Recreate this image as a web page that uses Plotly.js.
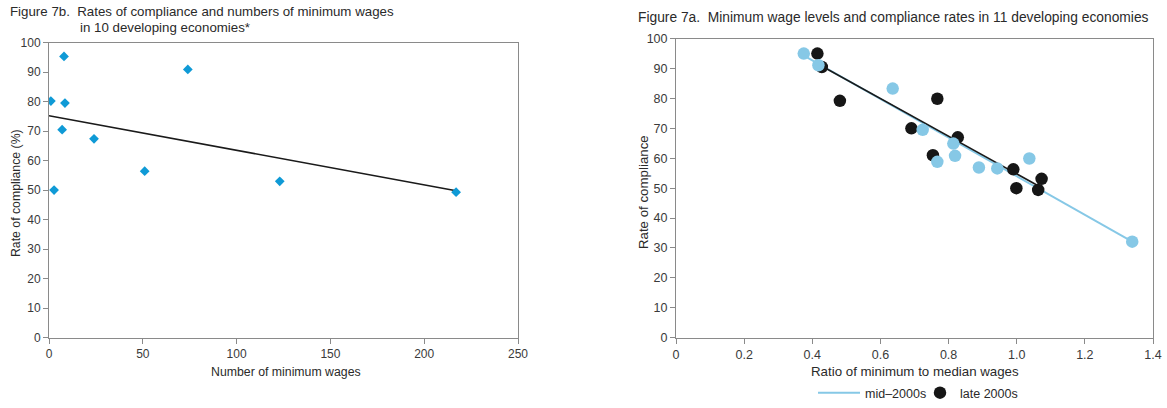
<!DOCTYPE html>
<html>
<head>
<meta charset="utf-8">
<script src="https://cdn.plot.ly/plotly-3.0.1.min.js"></script>
<style>html,body{margin:0;padding:0;background:#fff;}#chart{width:1167px;height:408px;}</style>
</head>
<body>
<div id="chart"></div>
<script>
// Figure 7b: number of minimum wages vs rate of compliance (%)
const countsB = [1, 2.7, 8, 8.5, 7, 24, 51, 74, 123, 217];
const ratesB = [80.2, 50, 95.3, 79.5, 70.5, 67.4, 56.4, 90.9, 53, 49.3];
const trendBx = [0, 217];
const trendBy = [75.2, 49.8];

// Figure 7a: ratio of minimum to median wages vs rate of compliance
const ratioMid = [0.375, 0.418, 0.636, 0.724, 0.767, 0.814, 0.819, 0.889, 0.943, 1.037, 1.339];
const rateMid = [95, 91.1, 83.3, 69.5, 58.8, 64.9, 60.8, 56.9, 56.6, 59.9, 32.1];
const ratioLate = [0.415, 0.428, 0.481, 0.691, 0.767, 0.754, 0.827, 0.990, 0.999, 1.073, 1.063];
const rateLate = [95, 90.5, 79.2, 70, 79.9, 61, 67, 56.3, 50, 53.1, 49.4];
const trendMidX = [0.369, 1.339];
const trendMidY = [94.7, 32.1];
const trendLateX = [0.414, 1.063];
const trendLateY = [91.7, 50.8];

const xTicksA = [0, 0.2, 0.4, 0.6, 0.8, 1.0, 1.2, 1.4];
const xTextA = ['0', '0.2', '0.4', '0.6', '0.8', '1.0', '1.2', '1.4'];
const yTicks = [0, 10, 20, 30, 40, 50, 60, 70, 80, 90, 100];
const xTicksB = [0, 50, 100, 150, 200, 250];

const W = 1167, H = 408;
const FONT = 'Liberation Sans, Arial, Helvetica, sans-serif';
const AX = '#8a8a8a';
const TXT = '#2a2a2a';

const traces = [
  {x: trendBx, y: trendBy, xaxis: 'x', yaxis: 'y', mode: 'lines', line: {color: '#1a1a1a', width: 1.6}, showlegend: false, hoverinfo: 'skip'},
  {x: countsB, y: ratesB, xaxis: 'x', yaxis: 'y', mode: 'markers', marker: {symbol: 'diamond', size: 7.5, color: '#0f9ad6'}, showlegend: false},
  {x: trendMidX, y: trendMidY, xaxis: 'x2', yaxis: 'y2', mode: 'lines', name: 'mid\u20132000s', line: {color: '#86c8e6', width: 2}, legend: 'legend'},
  {x: trendLateX, y: trendLateY, xaxis: 'x2', yaxis: 'y2', mode: 'lines', line: {color: '#1a1a1a', width: 1.6}, showlegend: false},
  {x: ratioLate, y: rateLate, xaxis: 'x2', yaxis: 'y2', mode: 'markers', name: 'late 2000s', marker: {symbol: 'circle', size: 12.5, color: '#161616'}, legend: 'legend2'},
  {x: ratioMid, y: rateMid, xaxis: 'x2', yaxis: 'y2', mode: 'markers', marker: {symbol: 'circle', size: 12.5, color: '#86c8e6'}, showlegend: false}
];

function axisBase(fs) {
  return {
    showline: true, linecolor: AX, linewidth: 1, mirror: true,
    ticks: 'outside', ticklen: 5, tickcolor: AX, tickwidth: 1,
    showgrid: false, zeroline: false, automargin: false,
    tickfont: {family: FONT, size: fs, color: '#3a3a3a'}
  };
}

function ann(text, x, y, size, opts) {
  return Object.assign({text: text, xref: 'paper', yref: 'paper', x: x / W, y: 1 - y / H,
    xanchor: 'center', yanchor: 'middle', showarrow: false,
    font: {family: FONT, size: size, color: TXT}}, opts || {});
}

const layout = {
  width: W, height: H,
  margin: {l: 0, r: 0, t: 0, b: 0},
  paper_bgcolor: '#fff', plot_bgcolor: '#fff',
  font: {family: FONT, size: 12, color: TXT},
  xaxis: Object.assign(axisBase(12), {
    domain: [49 / W, 518 / W], range: [0, 250], tickvals: xTicksB, anchor: 'y'
  }),
  yaxis: Object.assign(axisBase(12), {
    domain: [(H - 341) / H, (H - 43) / H], range: [0, 100], tickvals: yTicks, anchor: 'x'
  }),
  xaxis2: Object.assign(axisBase(12.5), {
    domain: [676 / W, 1153 / W], range: [0, 1.4], tickvals: xTicksA, ticktext: xTextA, anchor: 'y2'
  }),
  yaxis2: Object.assign(axisBase(12.5), {
    domain: [(H - 341) / H, (H - 39) / H], range: [0, 100], tickvals: yTicks, anchor: 'x2'
  }),
  showlegend: true,
  legend: {
    orientation: 'h', x: 813 / W, xanchor: 'left', y: 1 - 397 / H, yanchor: 'middle',
    font: {family: FONT, size: 12.5, color: TXT}, itemwidth: 42, bgcolor: 'rgba(0,0,0,0)'
  },
  legend2: {
    orientation: 'h', x: 920 / W, xanchor: 'left', y: 1 - 397 / H, yanchor: 'middle',
    font: {family: FONT, size: 12.5, color: TXT}, itemwidth: 30, bgcolor: 'rgba(0,0,0,0)'
  },
  annotations: [
    ann('Figure 7b.  Rates of compliance and numbers of minimum wages', 8, 12, 13.3, {xanchor: 'left'}),
    ann('in 10 developing economies*', 78, 28, 13.3, {xanchor: 'left'}),
    ann('Figure 7a.  Minimum wage levels and compliance rates in 11 developing economies', 636, 18, 13.8, {xanchor: 'left'}),
    ann('Number of minimum wages', 286, 376, 12.3),
    ann('Rate of compliance (%)', 16, 195, 12.3, {textangle: -90}),
    ann('Ratio of minimum to median wages', 915, 375, 13.3),
    ann('Rate of compliance', 643, 194, 13.3, {textangle: -90})
  ]
};

Plotly.newPlot('chart', traces, layout, {displayModeBar: false, staticPlot: true});
</script>
</body>
</html>
